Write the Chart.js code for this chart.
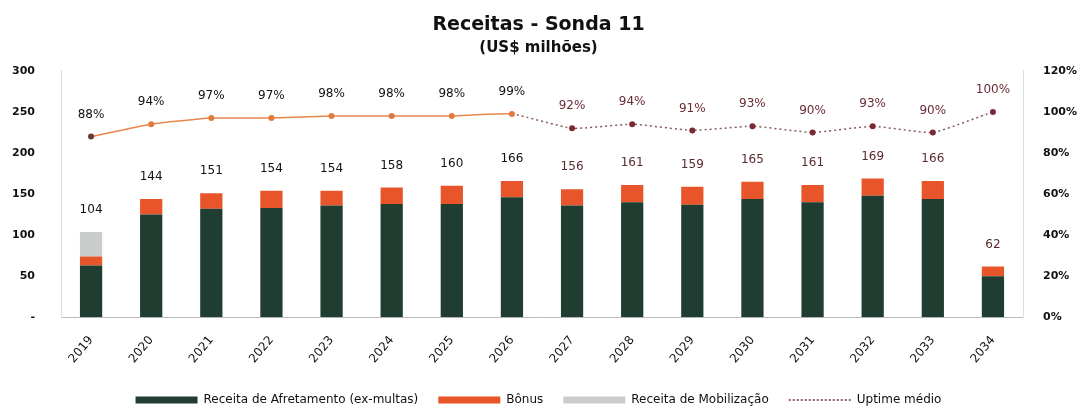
<!DOCTYPE html>
<html>
<head>
<meta charset="utf-8">
<script src="https://cdn.jsdelivr.net/npm/chart.js@4"></script>
<style>
  html, body { margin: 0; padding: 0; background: #fff; }
  #wrap { width: 1077px; height: 418px; }
</style>
</head>
<body>
<div id="wrap"><canvas id="chart"></canvas></div>
<script>
"use strict";

// Data (US$ milhões)
const years = ["2019", "2020", "2021", "2022", "2023", "2024", "2025", "2026",
               "2027", "2028", "2029", "2030", "2031", "2032", "2033", "2034"];
const afretamento = [63, 125, 132, 133, 136, 138, 138, 146, 136, 140, 137, 144, 140, 148, 144, 50];
const bonus       = [11, 19, 19, 21, 18, 20, 22, 20, 20, 21, 22, 21, 21, 21, 22, 12];
const mobilizacao = [30, 0, 0, 0, 0, 0, 0, 0, 0, 0, 0, 0, 0, 0, 0, 0];
const totals      = [104, 144, 151, 154, 154, 158, 160, 166, 156, 161, 159, 165, 161, 169, 166, 62];
const uptime      = [88, 94, 97, 97, 98, 98, 98, 99, 92, 94, 91, 93, 90, 93, 90, 100];

const FONT = "'DejaVu Sans', sans-serif";
const green = "#1f3d31";
const orange = "#e8552b";
const grey = "#c9cdcc";
const lineOrange = "#e9874f";
const maroon = "#7a2a35";
const lastSolid = 7; // 2026 is the last point of the solid part

// Draws totals above bars and % above uptime points
const labelPlugin = {
  id: "labels",
  afterDatasetsDraw(chart) {
    const ctx = chart.ctx;
    const yL = chart.scales.y;
    const yR = chart.scales.y1;
    const barMeta = chart.getDatasetMeta(0);
    const lineMeta = chart.getDatasetMeta(3);
    ctx.save();
    ctx.textAlign = "center";
    ctx.textBaseline = "middle";
    ctx.font = "12px " + FONT;
    totals.forEach((t, i) => {
      const x = barMeta.data[i].x;
      ctx.fillStyle = i <= lastSolid ? "#111" : "#5a2a2e";
      ctx.fillText(String(t), x, yL.getPixelForValue(t) - 22);
    });
    uptime.forEach((u, i) => {
      const x = lineMeta.data[i].x;
      ctx.fillStyle = i <= lastSolid ? "#111" : "#6b2a35";
      ctx.fillText(u + "%", x, yR.getPixelForValue(u) - 22);
    });
    ctx.restore();
  }
};

const ctx = document.getElementById("chart").getContext("2d");
new Chart(ctx, {
  data: {
    labels: years,
    datasets: [
      {
        type: "bar",
        label: "Receita de Afretamento (ex-multas)",
        data: afretamento,
        backgroundColor: green,
        stack: "s",
        yAxisID: "y",
        order: 2,
        barPercentage: 0.37,
        categoryPercentage: 1
      },
      {
        type: "bar",
        label: "Bônus",
        data: bonus,
        backgroundColor: orange,
        stack: "s",
        yAxisID: "y",
        order: 2,
        barPercentage: 0.37,
        categoryPercentage: 1
      },
      {
        type: "bar",
        label: "Receita de Mobilização",
        data: mobilizacao,
        backgroundColor: grey,
        stack: "s",
        yAxisID: "y",
        order: 2,
        barPercentage: 0.37,
        categoryPercentage: 1
      },
      {
        type: "line",
        label: "Uptime médio",
        data: uptime,
        yAxisID: "y1",
        order: 1,
        borderColor: lineOrange,
        borderWidth: 1.5,
        pointRadius: 3,
        pointBackgroundColor: uptime.map((u, i) => i === 0 ? "#6b3a30" : (i <= lastSolid ? "#e07a3e" : maroon)),
        pointBorderWidth: 0,
        backgroundColor: "#d94040",
        tension: 0.15,
        segment: {
          borderColor: c => c.p0DataIndex >= lastSolid ? "#8a5a60" : lineOrange,
          borderDash: c => c.p0DataIndex >= lastSolid ? [2, 3] : undefined
        }
      }
    ]
  },
  options: {
    responsive: true,
    maintainAspectRatio: false,
    animation: false,
    layout: { padding: { top: 14, left: 0, right: 0, bottom: 2 } },
    plugins: {
      title: {
        display: true,
        text: "Receitas - Sonda 11",
        color: "#111",
        font: { family: FONT, size: 19, weight: "bold" },
        padding: { top: 0, bottom: 2 }
      },
      subtitle: {
        display: true,
        text: "(US$ milhões)",
        color: "#111",
        font: { family: FONT, size: 15, weight: "bold" },
        padding: { top: 0, bottom: 14 }
      },
      legend: {
        position: "bottom",
        labels: {
          color: "#111",
          font: { family: FONT, size: 12 },
          usePointStyle: true,
          pointStyleWidth: 62,
          boxHeight: 7,
          padding: 20,
          sort: (a, b) => a.datasetIndex - b.datasetIndex,
          generateLabels: chart => {
            const items = Chart.defaults.plugins.legend.labels.generateLabels(chart);
            items.forEach(it => {
              if (it.datasetIndex === 3) {
                it.pointStyle = "line";
                it.strokeStyle = maroon;
                it.lineDash = [2, 2];
                it.lineWidth = 1.5;
              } else {
                it.pointStyle = "rect";
                it.lineWidth = 0;
              }
            });
            return items;
          }
        }
      },
      tooltip: { enabled: false }
    },
    scales: {
      x: {
        grid: { display: false },
        border: { color: "#bbb" },
        ticks: {
          color: "#111",
          font: { family: FONT, size: 12 },
          minRotation: 50,
          maxRotation: 50,
          padding: 8
        }
      },
      y: {
        position: "left",
        stacked: true,
        min: 0,
        max: 300,
        afterFit: s => { s.width = 61; },
        grid: { display: false },
        border: { color: "#ddd" },
        ticks: {
          stepSize: 50,
          color: "#111",
          font: { family: FONT, size: 11, weight: "bold" },
          callback: v => v === 0 ? "-" : v,
          padding: 18
        }
      },
      y1: {
        position: "right",
        min: 0,
        max: 120,
        afterFit: s => { s.width = 54; },
        grid: { display: false },
        border: { color: "#ddd" },
        ticks: {
          stepSize: 20,
          color: "#111",
          font: { family: FONT, size: 11, weight: "bold" },
          callback: v => v + "%",
          padding: 12
        }
      }
    }
  },
  plugins: [labelPlugin]
});
</script>
</body>
</html>
